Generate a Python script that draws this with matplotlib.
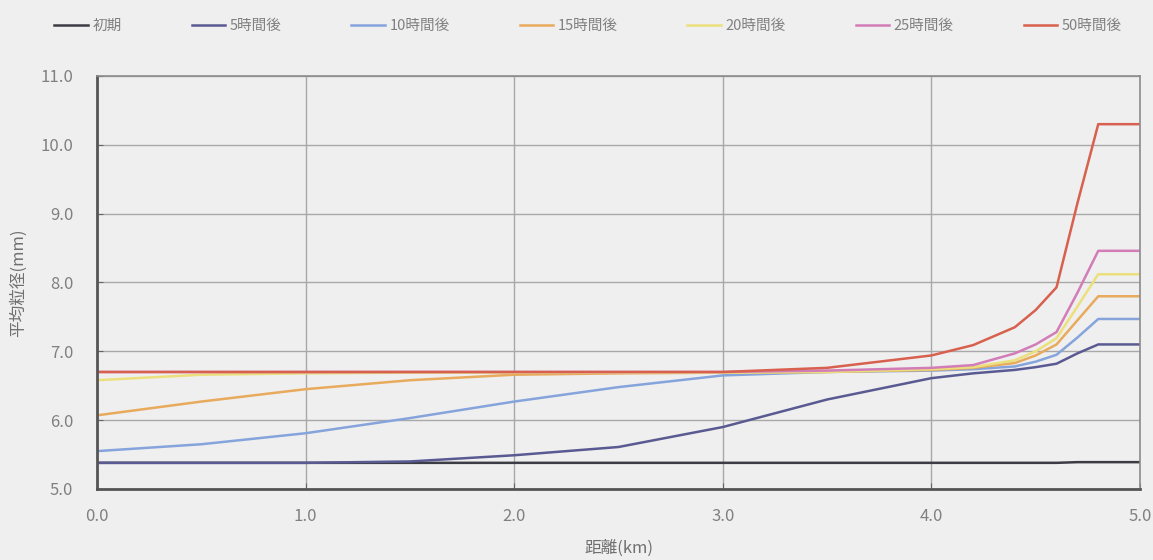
import matplotlib.pyplot as plt

plt.rcParams['font.family'] = ['Noto Sans CJK JP', 'DejaVu Sans']

# distance along the channel (km)
dist = [0.0, 0.5, 1.0, 1.5, 2.0, 2.5, 3.0, 3.5, 4.0, 4.2, 4.4, 4.5, 4.6, 4.7, 4.8, 5.0]

# mean grain size (mm) for each elapsed time
d_init = [5.38, 5.38, 5.38, 5.38, 5.38, 5.38, 5.38, 5.38, 5.38, 5.38, 5.38, 5.38, 5.38, 5.39, 5.39, 5.39]
d_5h = [5.38, 5.38, 5.38, 5.40, 5.49, 5.61, 5.90, 6.30, 6.61, 6.68, 6.73, 6.77, 6.82, 6.97, 7.10, 7.10]
d_10h = [5.55, 5.65, 5.81, 6.03, 6.27, 6.48, 6.65, 6.70, 6.72, 6.74, 6.78, 6.85, 6.95, 7.20, 7.47, 7.47]
d_15h = [6.07, 6.27, 6.45, 6.58, 6.66, 6.68, 6.69, 6.70, 6.73, 6.76, 6.83, 6.94, 7.10, 7.45, 7.80, 7.80]
d_20h = [6.58, 6.66, 6.68, 6.69, 6.69, 6.69, 6.69, 6.70, 6.74, 6.77, 6.87, 7.00, 7.19, 7.65, 8.12, 8.12]
d_25h = [6.70, 6.70, 6.70, 6.70, 6.70, 6.70, 6.70, 6.72, 6.76, 6.80, 6.97, 7.10, 7.28, 7.85, 8.46, 8.46]
d_50h = [6.70, 6.70, 6.70, 6.70, 6.70, 6.70, 6.70, 6.76, 6.94, 7.09, 7.35, 7.60, 7.93, 9.15, 10.30, 10.30]

labels = ['初期', '5時間後', '10時間後', '15時間後', '20時間後', '25時間後', '50時間後']
colors = ['#3c3c44', '#5a5a92', '#86a4dc', '#e8aa5c', '#ece07c', '#d27cb8', '#d8604e']
series = [d_init, d_5h, d_10h, d_15h, d_20h, d_25h, d_50h]

fig = plt.figure(figsize=(11.53, 5.6), dpi=100, facecolor='#efefef')
ax = fig.add_axes([0.0841, 0.1268, 0.9046, 0.7375], facecolor='#efefef')

for vals, lab, col in zip(series, labels, colors):
    ax.plot(dist, vals, color=col, lw=1.8, label=lab)

ax.set_xlim(0, 5)
ax.set_ylim(5, 11)
ax.set_xticks([0, 1, 2, 3, 4, 5])
ax.set_xticklabels(['0.0', '1.0', '2.0', '3.0', '4.0', '5.0'])
ax.set_yticks([5, 6, 7, 8, 9, 10, 11])
ax.set_yticklabels(['5.0', '6.0', '7.0', '8.0', '9.0', '10.0', '11.0'])
ax.tick_params(direction='in', length=4, colors='#666666', labelsize=12, labelcolor='#808080')
ax.tick_params(axis='y', pad=17)
ax.tick_params(axis='x', pad=14)
ax.grid(True, color='#a8a8a8', lw=1.0)
ax.set_axisbelow(True)

for side in ['left', 'bottom']:
    ax.spines[side].set_color('#555555')
    ax.spines[side].set_linewidth(2.0)
for side in ['top', 'right']:
    ax.spines[side].set_color('#8c8c8c')
    ax.spines[side].set_linewidth(1.2)

ax.set_xlabel('距離(km)', color='#707070', fontsize=12, labelpad=10)
ax.set_ylabel('平均粒径(mm)', color='#707070', fontsize=12, labelpad=10)

fig.legend(loc='upper center', bbox_to_anchor=(0.51, 0.99), ncol=7, frameon=False,
           fontsize=10.5, handlelength=2.3, columnspacing=4.8, handletextpad=0.3,
           labelcolor='#808080')

fig.savefig('out.png', dpi=100, facecolor=fig.get_facecolor())
